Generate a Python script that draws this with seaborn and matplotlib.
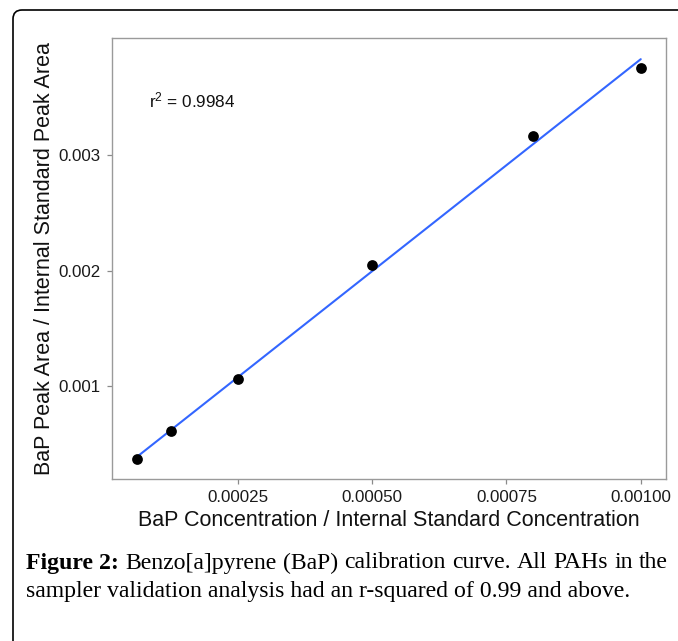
import numpy as np
import pandas as pd
import matplotlib
matplotlib.use("Agg")
import matplotlib.pyplot as plt
import seaborn as sns
from matplotlib.patches import FancyBboxPatch
from matplotlib.transforms import IdentityTransform

# ---- data ----
conc = [0.0000625, 0.000125, 0.00025, 0.0005, 0.0008, 0.001]
ratio = [0.000368, 0.000610, 0.001058, 0.002052, 0.003165, 0.003753]
x_ticks = [0.00025, 0.0005, 0.00075, 0.001]
x_tick_labels = ["0.00025", "0.00050", "0.00075", "0.00100"]
y_ticks = [0.001, 0.002, 0.003]
y_tick_labels = ["0.001", "0.002", "0.003"]
r2_text = "r$^2$ = 0.9984"
x_title = "BaP Concentration / Internal Standard Concentration"
y_title = "BaP Peak Area / Internal Standard Peak Area"
caption_bold = "Figure 2:"
caption_line1 = "Benzo[a]pyrene (BaP) calibration curve. All PAHs in the"
caption_line2 = "sampler validation analysis had an r-squared of 0.99 and above."

sns.set_theme(style="white")
plt.rcParams['font.family'] = ['Liberation Sans', 'DejaVu Sans']
plt.rcParams['mathtext.default'] = 'regular'

W, H = 678, 641
fig = plt.figure(figsize=(W / 100, H / 100), dpi=100)
fig.patch.set_facecolor("white")

ax = fig.add_axes([112 / W, 1 - 479 / H, (666 - 112) / W, (479 - 38) / H])
df = pd.DataFrame({"conc": conc, "ratio": ratio})
sns.regplot(data=df, x="conc", y="ratio", ci=None, ax=ax,
            scatter_kws=dict(s=60, color="black", linewidths=0, zorder=3, alpha=1),
            line_kws=dict(color="#3366FF", lw=1.5, zorder=2))

ax.set_xlim(0.0000156, 0.001047)
ax.set_ylim(0.000196, 0.004013)
ax.set_xticks(x_ticks)
ax.set_xticklabels(x_tick_labels)
ax.set_yticks(y_ticks)
ax.set_yticklabels(y_tick_labels)
ax.tick_params(axis="both", which="both", length=3.6, width=0.9, color="#8a8a8a",
               labelsize=12.2, labelcolor="#1a1a1a", direction="out")
ax.tick_params(axis="x", pad=4)
ax.tick_params(axis="y", pad=4.5)
ax.xaxis.set_ticks_position("bottom")
ax.yaxis.set_ticks_position("left")
for sp in ax.spines.values():
    sp.set_visible(True)
    sp.set_color("#9a9a9a")
    sp.set_linewidth(1.0)
ax.grid(False)

ax.set_xlabel(x_title, fontsize=15.5, color="#111111")
ax.set_ylabel(y_title, fontsize=15.5, color="#111111")
ax.xaxis.set_label_coords(0.5, (479 - 521) / 441)
ax.xaxis.label.set_va("center")
ax.yaxis.set_label_coords((45 - 112) / 554, 0.5)
ax.yaxis.label.set_va("center")

ax.text(0.0000852, 0.003476, r2_text, fontsize=12.3, color="#111111",
        ha="left", va="center")

# ---- caption ----
serif = ['Liberation Serif', 'DejaVu Serif']
cap_size = 17.1
renderer = fig.canvas.get_renderer()
words = [(caption_bold, "bold")] + [(w, "normal") for w in caption_line1.split(" ")]
left_px, right_px = 26, 668
y1 = 1 - 563 / H
y2 = 1 - 592 / H
texts = []
total_w = 0
for w, weight in words:
    t = fig.text(0, y1, w, fontsize=cap_size, family=serif, weight=weight,
                 color="black", ha="left", va="center")
    bb = t.get_window_extent(renderer=renderer)
    texts.append((t, bb.width))
    total_w += bb.width
gap = (right_px - left_px - total_w) / (len(words) - 1)
x = left_px
for t, wpx in texts:
    t.set_x(x / W)
    x += wpx + gap

fig.text(left_px / W, y2, caption_line2, fontsize=cap_size, family=serif,
         color="black", ha="left", va="center")

# ---- rounded frame ----
frame = FancyBboxPatch((13, -60), 760, (H - 10) + 60,
                       boxstyle="round,pad=0,rounding_size=9",
                       transform=IdentityTransform(), fill=False,
                       edgecolor="black", linewidth=1.2, clip_on=False)
fig.add_artist(frame)

fig.savefig("out.png", dpi=100)
